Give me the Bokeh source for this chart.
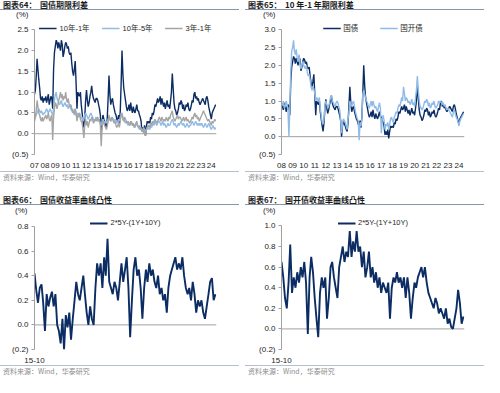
from datetime import datetime
from bokeh.plotting import figure
from bokeh.models import (Span, Legend, LegendItem, FixedTicker, DatetimeTickFormatter,
                          Div, Range1d, GridBox)
from bokeh.embed import file_html
from bokeh.resources import INLINE

# ---------------- data (monthly readings) ----------------
# Panel 64: 国债期限利差, 2007-01 .. 2024-06
spread_10y1y = [
    0.95, 1.05, 1.35, 1.80, 1.55, 1.30, 1.10, 0.85, 0.80, 0.90, 0.75, 0.85,   # 2007
    0.80, 0.90, 0.75, 0.85, 0.95, 0.70, 0.80, 0.90, 0.85, 0.60, 1.55, 1.95,   # 2008
    2.10, 2.25, 2.20, 2.05, 2.20, 2.10, 2.00, 2.25, 2.15, 1.85, 1.95, 2.10,   # 2009
    2.20, 2.15, 2.05, 2.10, 1.95, 1.90, 1.95, 1.70, 1.50, 1.40, 1.55, 1.75,   # 2010
    1.20, 0.60, 1.00, 0.95, 0.90, 1.00, 0.70, 0.50, 0.30, 0.15, 0.40, 0.80,   # 2011
    1.05, 0.80, 0.65, 0.75, 0.90, 1.00, 1.15, 0.95, 0.85, 0.80, 0.75, 0.85,   # 2012
    0.85, 0.80, 0.70, 0.60, 0.45, 0.00, 0.30, 0.45, 0.35, 0.30, 0.20, 0.15,   # 2013
    0.40, 0.90, 1.40, 0.95, 0.70, 0.80, 0.85, 0.70, 0.60, 0.50, 0.45, 0.35,   # 2014
    0.30, 0.45, 0.25, 0.55, 1.20, 2.00, 1.45, 1.10, 0.95, 0.80, 0.65, 0.55,   # 2015
    0.60, 0.70, 0.55, 0.75, 0.60, 0.50, 0.65, 0.55, 0.50, 0.60, 0.70, 0.55,   # 2016
    0.55, 0.45, 0.40, 0.30, 0.05, 0.15, 0.05, 0.20, -0.05, 0.15, 0.30, 0.25,  # 2017
    0.30, 0.25, 0.40, 0.35, 0.50, 0.45, 0.55, 0.70, 0.65, 0.75, 0.85, 0.75,   # 2018
    0.80, 0.90, 0.70, 0.85, 0.75, 0.65, 0.75, 0.60, 0.70, 0.80, 0.65, 0.70,   # 2019
    0.60, 0.80, 1.00, 1.45, 1.10, 0.75, 0.60, 0.55, 0.45, 0.50, 0.60, 0.75,   # 2020
    0.70, 0.80, 0.75, 0.60, 0.70, 0.55, 0.60, 0.70, 0.65, 0.75, 0.60, 0.55,   # 2021
    0.60, 0.70, 0.80, 0.75, 0.95, 1.00, 0.85, 0.90, 0.80, 0.85, 0.75, 0.70,   # 2022
    0.75, 0.80, 0.85, 0.80, 0.75, 0.70, 0.85, 0.90, 0.80, 0.65, 0.55, 0.45,   # 2023
    0.35, 0.50, 0.55, 0.60, 0.65, 0.70,                                       # 2024
]
spread_10y5y = [
    0.35, 0.40, 0.45, 0.50, 0.55, 0.60, 0.55, 0.50, 0.55, 0.50, 0.45, 0.50,
    0.50, 0.55, 0.60, 0.55, 0.50, 0.55, 0.60, 0.55, 0.50, 0.45, 0.60, 0.80,
    0.95, 1.00, 0.85, 0.80, 0.75, 0.70, 0.75, 0.80, 0.70, 0.65, 0.70, 0.75,
    0.70, 0.65, 0.70, 0.60, 0.65, 0.70, 0.60, 0.55, 0.60, 0.50, 0.55, 0.60,
    0.45, 0.40, 0.50, 0.45, 0.50, 0.40, 0.35, 0.40, 0.30, 0.35, 0.45, 0.50,
    0.45, 0.40, 0.35, 0.40, 0.45, 0.50, 0.45, 0.40, 0.35, 0.30, 0.35, 0.40,
    0.35, 0.30, 0.35, 0.30, 0.25, 0.20, 0.30, 0.35, 0.30, 0.25, 0.30, 0.25,
    0.30, 0.35, 0.40, 0.35, 0.30, 0.35, 0.40, 0.35, 0.30, 0.35, 0.30, 0.25,
    0.30, 0.35, 0.30, 0.40, 0.45, 0.50, 0.40, 0.35, 0.30, 0.25, 0.30, 0.25,
    0.20, 0.25, 0.20, 0.25, 0.30, 0.20, 0.25, 0.20, 0.15, 0.20, 0.25, 0.20,
    0.15, 0.10, 0.15, 0.10, 0.05, 0.10, 0.15, 0.10, 0.05, 0.10, 0.15, 0.10,
    0.15, 0.10, 0.20, 0.15, 0.20, 0.25, 0.20, 0.30, 0.25, 0.20, 0.25, 0.30,
    0.30, 0.25, 0.20, 0.25, 0.30, 0.20, 0.25, 0.20, 0.15, 0.20, 0.25, 0.20,
    0.20, 0.25, 0.30, 0.35, 0.30, 0.20, 0.25, 0.20, 0.15, 0.20, 0.25, 0.20,
    0.25, 0.30, 0.25, 0.20, 0.25, 0.20, 0.15, 0.20, 0.25, 0.20, 0.15, 0.20,
    0.20, 0.25, 0.30, 0.25, 0.20, 0.25, 0.30, 0.25, 0.20, 0.25, 0.20, 0.25,
    0.20, 0.25, 0.20, 0.15, 0.20, 0.25, 0.20, 0.15, 0.20, 0.25, 0.20, 0.15,
    0.10, 0.15, 0.20, 0.15, 0.10, 0.15,
]
spread_3y1y = [
    0.30, 0.40, 0.55, 0.80, 0.65, 0.50, 0.45, 0.35, 0.30, 0.40, 0.30, 0.35,
    0.40, 0.45, 0.35, 0.40, 0.50, 0.35, 0.30, 0.40, 0.45, -0.15, 0.40, 0.60,
    0.75, 0.70, 0.60, 0.70, 0.80, 0.90, 1.00, 0.85, 0.95, 0.80, 0.90, 0.85,
    1.00, 0.80, 0.75, 0.85, 0.70, 0.65, 0.70, 0.60, 0.50, 0.55, 0.45, 0.60,
    0.50, 0.30, 0.45, 0.40, 0.50, 0.35, 0.30, 0.25, 0.10, -0.10, 0.20, 0.35,
    0.20, 0.30, 0.15, 0.25, 0.35, 0.30, 0.40, 0.35, 0.25, 0.30, 0.35, 0.30,
    0.35, 0.40, 0.30, 0.35, 0.20, -0.30, 0.15, 0.30, 0.25, 0.20, 0.15, 0.10,
    0.20, 0.30, 0.45, 0.35, 0.30, 0.40, 0.35, 0.30, 0.25, 0.30, 0.20, 0.15,
    0.20, 0.25, 0.15, 0.30, 0.50, 0.45, 0.35, 0.30, 0.40, 0.35, 0.30, 0.25,
    0.30, 0.25, 0.20, 0.30, 0.25, 0.20, 0.25, 0.15, 0.20, 0.25, 0.30, 0.20,
    0.15, 0.20, 0.10, 0.15, 0.05, 0.10, 0.00, 0.10, -0.05, 0.10, 0.15, 0.20,
    0.20, 0.15, 0.25, 0.20, 0.30, 0.25, 0.30, 0.35, 0.30, 0.25, 0.30, 0.35,
    0.40, 0.35, 0.30, 0.40, 0.35, 0.30, 0.35, 0.30, 0.40, 0.35, 0.30, 0.40,
    0.35, 0.45, 0.50, 0.55, 0.40, 0.35, 0.30, 0.35, 0.40, 0.45, 0.35, 0.40,
    0.40, 0.35, 0.30, 0.35, 0.40, 0.30, 0.35, 0.40, 0.30, 0.35, 0.30, 0.25,
    0.30, 0.35, 0.40, 0.35, 0.45, 0.50, 0.40, 0.45, 0.35, 0.40, 0.30, 0.35,
    0.40, 0.45, 0.50, 0.55, 0.50, 0.45, 0.40, 0.35, 0.30, 0.35, 0.30, 0.25,
    0.20, 0.30, 0.25, 0.30, 0.35, 0.30,
]
# Panel 65: 10年-1年期限利差, 国开债 2008-01 .. 2024-06 (国债 = spread_10y1y from 2008)
cdb_10y1y = [
    0.85, 0.90, 1.00, 0.80, 0.85, 1.00, 0.90, 0.75, 0.00, 0.80, 1.80, 2.40,   # 2008
    2.50, 2.70, 2.40, 2.30, 2.45, 2.20, 2.10, 2.30, 2.05, 1.90, 2.00, 2.10,   # 2009
    2.00, 1.95, 1.90, 2.00, 1.80, 1.70, 1.75, 1.60, 1.40, 1.30, 1.40, 1.35,   # 2010
    1.20, 1.00, 1.10, 1.05, 1.00, 1.10, 0.80, 0.60, 0.40, 0.35, 0.50, 0.90,   # 2011
    1.00, 0.90, 0.80, 0.85, 0.95, 1.10, 1.15, 1.00, 0.95, 0.90, 0.85, 0.95,   # 2012
    1.00, 0.95, 0.85, 0.75, 0.50, 0.10, 0.35, 0.50, 0.45, 0.40, 0.30, 0.20,   # 2013
    0.50, 0.70, 1.00, 0.90, 0.85, 0.95, 1.00, 0.85, 0.70, 0.60, 0.50, 0.45,   # 2014
    -0.10, 0.40, 0.30, 0.50, 1.20, 1.30, 1.20, 1.10, 1.00, 0.95, 0.85, 0.80,  # 2015
    0.90, 1.00, 0.85, 1.00, 0.90, 0.80, 0.85, 0.75, 0.70, 0.85, 0.95, 0.80,   # 2016
    0.10, 0.50, 0.60, 0.45, 0.20, 0.35, 0.30, 0.40, 0.20, 0.35, 0.50, 0.55,   # 2017
    0.45, 0.40, 0.55, 0.60, 0.70, 0.65, 0.80, 0.90, 0.85, 0.95, 1.10, 1.00,   # 2018
    1.40, 1.20, 1.00, 1.10, 1.05, 0.95, 1.00, 0.90, 0.95, 1.05, 0.90, 0.95,   # 2019
    0.85, 1.10, 1.30, 1.70, 1.30, 1.00, 0.85, 0.80, 0.75, 0.80, 0.90, 1.00,   # 2020
    0.95, 1.05, 1.00, 0.85, 0.95, 0.80, 0.85, 0.95, 0.90, 1.00, 0.85, 0.80,   # 2021
    0.85, 0.90, 1.00, 0.95, 1.00, 0.95, 0.90, 0.95, 0.85, 0.90, 0.80, 0.75,   # 2022
    0.80, 0.75, 0.70, 0.65, 0.60, 0.55, 0.70, 0.75, 0.65, 0.55, 0.50, 0.40,   # 2023
    0.30, 0.45, 0.50, 0.55, 0.60, 0.65,                                       # 2024
]
# Panel 66 / 67: 2*5Y-(1Y+10Y), 2015-10 .. 2024-06
convexity_gov = [
    0.42, 0.28, 0.18, 0.30, 0.33, 0.18, -0.05, 0.25, 0.15, 0.22, 0.27, 0.15,
    0.25, 0.00, -0.05, -0.15, 0.05, -0.20, 0.08, -0.02, 0.10, -0.12, 0.05, 0.20,
    0.35, 0.25, 0.20, 0.30, 0.40, 0.25, 0.10, 0.00, 0.15, 0.05, 0.00, 0.30,
    0.50, 0.40, 0.50, 0.30, 0.55, 0.40, 0.70, 0.35, 0.30, 0.25, 0.35, 0.30,
    0.20, 0.35, 0.50, 0.35, 0.45, 0.55, 0.30, -0.10, 0.20, 0.45, 0.55, 0.40,
    0.45, 0.30, 0.05, 0.30, 0.45, 0.35, 0.50, 0.40, 0.45, 0.35, 0.30, 0.40,
    0.25, 0.30, 0.20, 0.25, 0.10, 0.30, 0.40, 0.45, 0.50, 0.55, 0.45, 0.50,
    0.45, 0.55, 0.40, 0.30, 0.25, 0.30, 0.20, 0.35, 0.25, 0.10, 0.20, 0.15,
    0.20, 0.10, 0.05, 0.15, 0.25, 0.35, 0.38, 0.20, 0.25,
]
convexity_cdb = [
    0.65, 0.50, 0.30, 0.20, 0.45, 0.82, 0.35, 0.50, 0.40, 0.55, 0.45, 0.60,
    0.50, 0.65, 0.45, -0.05, 0.50, 0.70, 0.55, 0.30, 0.10, -0.08, 0.35, 0.50,
    0.40, 0.50, 0.10, 0.30, 0.60, 0.65, 0.50, 0.40, 0.30, 0.60, 0.70, 0.80,
    0.65, 0.75, 0.70, 0.95, 0.70, 0.85, 0.75, 0.95, 0.75, 0.80, 0.60, 0.75,
    0.50, 0.60, 0.75, 0.50, 0.60, 0.45, 0.55, 0.40, 0.50, 0.35, 0.45, 0.40,
    0.35, 0.45, 0.10, 0.40, 0.50, 0.45, 0.55, 0.45, 0.50, 0.40, 0.50, 0.30,
    0.50, 0.35, 0.10, 0.30, 0.45, 0.40, 0.50, 0.55, 0.60, 0.50, 0.60, 0.45,
    0.35, 0.30, 0.25, 0.20, 0.30, 0.25, 0.15, 0.20, 0.15, 0.10, 0.20, 0.05,
    0.10, 0.02, 0.00, 0.10, 0.20, 0.38, 0.25, 0.05, 0.12,
]

years_64 = list(range(2007, 2025))
year_labels_64 = ["07", "08", "09", "10", "11", "12", "13", "14", "15", "16", "17", "18",
                  "19", "20", "21", "22", "23", "24"]
years_65 = list(range(2008, 2025))
year_labels_65 = year_labels_64[1:]
y_ticks_64 = [-0.5, 0.0, 0.5, 1.0, 1.5, 2.0, 2.5]
y_labels_64 = ["(0.5)", "0.0", "0.5", "1.0", "1.5", "2.0", "2.5"]
y_ticks_65 = [-0.5, 0.0, 0.5, 1.0, 1.5, 2.0, 2.5, 3.0]
y_labels_65 = ["(0.5)", "0.0", "0.5", "1.0", "1.5", "2.0", "2.5", "3.0"]
y_ticks_66 = [-0.2, 0.0, 0.2, 0.4, 0.6, 0.8]
y_labels_66 = ["(0.2)", "0.0", "0.2", "0.4", "0.6", "0.8"]
y_ticks_67 = [-0.2, 0.0, 0.2, 0.4, 0.6, 0.8, 1.0]
y_labels_67 = ["(0.2)", "0.0", "0.2", "0.4", "0.6", "0.8", "1.0"]
x_label_66 = "15-10"

# ---------------- styling ----------------
NAVY = "#0c2d63"
LBLUE = "#8fbbe8"
GRAY = "#a5a5a5"
AXIS_GRAY = "#a0a0a0"
TEXT = "#262626"
FONT = "Liberation Sans"
MIXFONT = "Liberation Sans, Noto Sans CJK SC"
EPOCH = datetime(1970, 1, 1)
W = 242


def ms(d):
    return (d - EPOCH).total_seconds() * 1000.0


def month_dates(y, m, n):
    out = []
    for i in range(n):
        k = (m - 1) + i
        out.append(ms(datetime(y + k // 12, k % 12 + 1, 1)))
    return out


def base_fig(h, x0, x1, y0, y1, borders, yticks, ylabels):
    l, r, t, b = borders
    p = figure(width=W, height=h, x_axis_type="datetime",
               x_range=Range1d(ms(x0), ms(x1)), y_range=Range1d(y0, y1),
               output_backend="svg", toolbar_location=None,
               min_border_left=l, min_border_right=r, min_border_top=t, min_border_bottom=b)
    p.outline_line_color = None
    p.xgrid.visible = False
    p.ygrid.visible = False
    p.background_fill_color = "white"
    p.border_fill_color = "white"
    yax = p.yaxis[0]
    yax.ticker = FixedTicker(ticks=yticks)
    yax.major_label_overrides = {tk: lb for tk, lb in zip(yticks, ylabels)}
    yax.bounds = (yticks[0], yticks[-1])
    yax.axis_line_color = AXIS_GRAY
    yax.major_tick_line_color = AXIS_GRAY
    yax.major_tick_out = 3
    yax.major_tick_in = 0
    yax.minor_tick_line_color = None
    yax.major_label_text_font = FONT
    yax.major_label_text_font_size = "8px"
    yax.major_label_text_color = TEXT
    yax.major_label_standoff = 3
    xax = p.xaxis[0]
    xax.axis_line_color = None
    xax.major_tick_line_color = None
    xax.minor_tick_line_color = None
    xax.major_label_text_font = FONT
    xax.major_label_text_font_size = "8px"
    xax.major_label_text_color = TEXT
    xax.major_label_standoff = 2
    fmt = "%y"
    xax.formatter = DatetimeTickFormatter(years=fmt, months=fmt, days=fmt, hours=fmt,
                                          hourmin=fmt, minutes=fmt, minsec=fmt, seconds=fmt,
                                          milliseconds=fmt, microseconds=fmt)
    p.add_layout(Span(location=0, dimension="width", line_color=AXIS_GRAY, line_width=1,
                      level="underlay"))
    return p


def set_ticks(p, ticks, labels):
    xax = p.xaxis[0]
    xax.ticker = FixedTicker(ticks=ticks)
    xax.major_label_overrides = {tk: lb for tk, lb in zip(ticks, labels)}


def add_legend(p, items, spacing=12):
    lg = Legend(items=[LegendItem(label=lb, renderers=[r]) for lb, r in items],
                location="top_center", orientation="horizontal",
                border_line_color=None, background_fill_alpha=0,
                label_text_font=MIXFONT, label_text_font_size="7.5px",
                label_text_color=TEXT, glyph_width=18, glyph_height=8, label_height=8,
                label_standoff=3, spacing=spacing, padding=0, margin=1)
    p.add_layout(lg)


def title_div(text, h, side, unit_pad):
    mside = "margin-right:3px;" if side == "left" else "margin-left:3px;"
    html = ("<div style=\"width:239px;height:%dpx;overflow:hidden;%s\">"
            "<div style=\"font-family:'Noto Sans CJK SC';font-weight:bold;font-size:8px;"
            "color:#1a1a1a;line-height:10px;height:10px;border-bottom:1.5px solid #8496b0;"
            "padding-left:3px;white-space:nowrap;\">%s</div>"
            "<div style=\"font-family:'Liberation Sans';font-size:8px;color:#262626;"
            "line-height:9px;margin-top:%dpx;padding-left:%dpx;\">(%%)</div></div>"
            ) % (h, mside, text, h - 21, unit_pad)
    return Div(text=html, width=W, height=h, margin=0, sizing_mode="fixed")


def source_div(h, side):
    mside = "margin-right:3px;" if side == "left" else "margin-left:3px;"
    html = ("<div style=\"width:239px;height:%dpx;overflow:hidden;%s\">"
            "<div style=\"font-family:'Noto Sans CJK SC';font-size:7px;color:#8c8c8c;"
            "border-top:1px solid #b4c0d0;padding-top:1px;padding-left:3px;line-height:9px;"
            "white-space:nowrap;\">资料来源：Wind，华泰研究</div></div>") % (h, mside)
    return Div(text=html, width=W, height=h, margin=0, sizing_mode="fixed")


# ---- panel 64 ----  (top row: title 21, figure 150, source 24)
d64 = month_dates(2007, 1, len(spread_10y1y))
p64 = base_fig(150, datetime(2007, 1, 1), datetime(2024, 7, 1), -0.5, 2.70,
               (34, 24, 0, 17), y_ticks_64, y_labels_64)
set_ticks(p64, [ms(datetime(y, 1, 1)) for y in years_64], year_labels_64)
r1 = p64.line(d64, spread_10y1y, line_color=NAVY, line_width=1.4)
r2 = p64.line(d64, spread_10y5y, line_color=LBLUE, line_width=1.4)
r3 = p64.line(d64, spread_3y1y, line_color=GRAY, line_width=1.4)
add_legend(p64, [("10年-1年", r1), ("10年-5年", r2), ("3年-1年", r3)])

# ---- panel 65 ----
d65 = month_dates(2008, 1, len(cdb_10y1y))
gov_10y1y = spread_10y1y[12:]
p65 = base_fig(150, datetime(2008, 1, 1), datetime(2024, 7, 1), -0.5, 3.23,
               (39, 18, 0, 17), y_ticks_65, y_labels_65)
set_ticks(p65, [ms(datetime(y, 1, 1)) for y in years_65], year_labels_65)
q1 = p65.line(d65, gov_10y1y, line_color=NAVY, line_width=1.4)
q2 = p65.line(d65, cdb_10y1y, line_color=LBLUE, line_width=1.4)
add_legend(p65, [("国债", q1), ("国开债", q2)], spacing=16)


def convexity_fig(data, yticks, ylabels, y1, borders):
    dd = month_dates(2015, 10, len(data))
    p = base_fig(148, datetime(2015, 10, 1), datetime(2024, 6, 20), -0.2, y1,
                 borders, yticks, ylabels)
    set_ticks(p, [ms(datetime(2015, 10, 1))], [x_label_66])
    r = p.line(dd, data, line_color=NAVY, line_width=1.9)
    add_legend(p, [("2*5Y-(1Y+10Y)", r)])
    return p


p66 = convexity_fig(convexity_gov, y_ticks_66, y_labels_66, 0.873, (33, 26, 0, 16))
p67 = convexity_fig(convexity_cdb, y_ticks_67, y_labels_67, 1.082, (39, 20, 0, 16))

children = [
    (title_div("图表64：&nbsp;&nbsp;国债期限利差", 21, "left", 16), 0, 0),
    (title_div("图表65：&nbsp;&nbsp;10 年-1 年期限利差", 21, "right", 18), 0, 1),
    (p64, 1, 0), (p65, 1, 1),
    (source_div(24, "left"), 2, 0), (source_div(24, "right"), 2, 1),
    (title_div("图表66：&nbsp;&nbsp;国债收益率曲线凸性", 22, "left", 15), 3, 0),
    (title_div("图表67：&nbsp;&nbsp;国开债收益率曲线凸性", 22, "right", 18), 3, 1),
    (p66, 4, 0), (p67, 4, 1),
    (source_div(12, "left"), 5, 0), (source_div(12, "right"), 5, 1),
]
layout = GridBox(children=children, spacing=0)

open("out.html", "w").write(file_html(layout, INLINE))
